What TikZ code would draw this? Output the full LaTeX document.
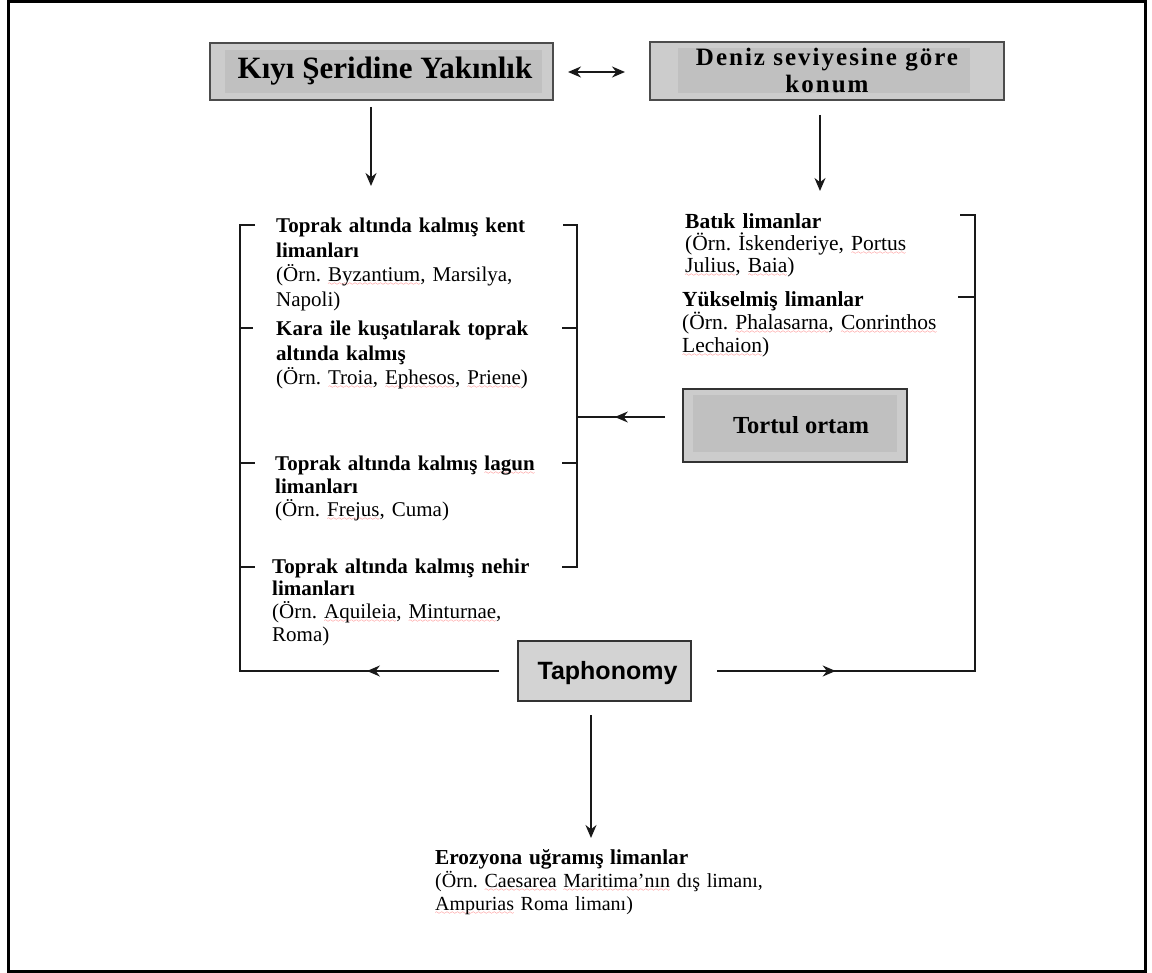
\documentclass[tikz,border=0pt]{standalone}
\usepackage{fontspec}
\setmainfont{Liberation Serif}
\newfontfamily\arialf{Liberation Sans}
\newfontfamily\spacedf[LetterSpace=8]{Liberation Serif}
\usetikzlibrary{arrows.meta,decorations.markings}
\font\sqwfont=lasy6
\newcommand\sqw[1]{\leavevmode\setbox0\hbox{#1}\rlap{\textcolor{red!75}{\lower4pt\hbox to \wd0{\xleaders\hbox{\sqwfont\char58}\hfil}}}\box0\relax}
\definecolor{boxout}{RGB}{204,204,204}
\definecolor{boxin}{RGB}{192,192,192}
\definecolor{taphfill}{RGB}{211,211,211}
\tikzset{
  ln/.style={line width=1.5pt, black!90},
  tipd/.style={-{Stealth[length=13pt,width=11pt]}},
  midarrow/.style={postaction={decorate},decoration={markings,mark=at position #1 with {\arrow{Stealth[length=13pt,width=11pt]}}}},
  graybox/.style={draw=black!70, line width=2pt, fill=boxout, inner sep=0pt},
  txt/.style={anchor=base west, inner sep=0pt, text width=360pt, align=left},
  bodyf/.style={font=\fontsize{21}{#1}\selectfont},
}
\begin{document}
\frenchspacing
\begin{tikzpicture}[x=1pt,y=-1pt]
\useasboundingbox (0,0) rectangle (1152,973);
\draw[line width=3.5pt] (8.5,1.75) rectangle (1145.5,971.25);

% top-left box
\node[graybox, minimum width=343pt, minimum height=57pt] (kiyi) at (381.5,71.5) {};
\fill[boxin] (225,50) rectangle (542,93);
\node[anchor=base, inner sep=0pt, font=\fontsize{31}{32}\selectfont\bfseries] (kiyiT) at (385,78.5) {Kıyı Şeridine Yakınlık};

% top-right box
\node[graybox, minimum width=354pt, minimum height=58pt] (deniz) at (827,71) {};
\fill[boxin] (678,48) rectangle (970,93);
\node[anchor=base, inner sep=0pt, text width=330pt, align=center, font=\fontsize{25}{27}\spacedf\bfseries] (denizT) at (827,66) {Deniz seviyesine göre\\konum};

% double arrow
\coordinate (dl) at (568,72);
\coordinate (dr) at (625,72);
\draw[ln, {Stealth[length=13pt,width=11pt]}-{Stealth[length=13pt,width=11pt]}] (dl) -- (dr);

% down arrows
\coordinate (a1s) at (371,107);
\coordinate (a1e) at (371,186);
\draw[ln, tipd] (a1s) -- (a1e);
\coordinate (a2s) at (820,115);
\coordinate (a2e) at (820,191);
\draw[ln, tipd] (a2s) -- (a2e);

% left bracket
\coordinate (lt) at (255,225);
\coordinate (lc) at (240,225);
\coordinate (lb) at (240,671);
\coordinate (tapL) at (499,671);
\draw[ln] (lt) -- (lc) -- (lb) -- (tapL);
\draw[ln, midarrow=0.51] (tapL) -- (lb);
\draw[ln] (240,328) -- (253,328);
\draw[ln] (240,463) -- (255,463);
\draw[ln] (240,567) -- (255,567);
% inner right side of left bracket
\draw[ln] (563,225) -- (577,225) -- (577,567) -- (562,567);
\draw[ln] (562,328) -- (577,328);
\draw[ln] (562,463) -- (577,463);

% Tortul ortam
\node[graybox, draw=black!80, line width=2.2pt, minimum width=224pt, minimum height=73pt] (tortul) at (795,425.5) {};
\fill[boxin] (693,395) rectangle (897,452);
\node[anchor=base, inner sep=0pt, font=\fontsize{24.5}{26}\selectfont\bfseries] (tortulT) at (801,434) {Tortul ortam};
\coordinate (ts) at (665,417);
\coordinate (te) at (577,417);
\draw[ln, midarrow=0.57] (ts) -- (te);

% right bracket
\coordinate (rt) at (960,215);
\coordinate (rc) at (975,215);
\coordinate (rb) at (975,671);
\coordinate (tapR) at (717,671);
\draw[ln] (rt) -- (rc) -- (rb) -- (tapR);
\draw[ln, midarrow=0.46] (tapR) -- (rb);
\draw[ln] (958,297) -- (975,297);

% Taphonomy
\node[draw=black!80, line width=2pt, fill=taphfill, minimum width=173pt, minimum height=60pt] (taph) at (604.5,671) {};
\node[anchor=base, inner sep=0pt, font=\fontsize{25}{27}\arialf\bfseries] (taphT) at (607.5,679) {Taphonomy};
\coordinate (bs) at (591,715);
\coordinate (be) at (591,838);
\draw[ln, tipd] (bs) -- (be);

% left list
\node[txt, bodyf=24.5] (l1) at (276,233) {\textbf{Toprak altında kalmış kent}\\\textbf{limanları}\\(Örn. \sqw{Byzantium}, Marsilya,\\Napoli)};
\node[txt, bodyf=24.5] (l2) at (276,336) {\textbf{Kara ile kuşatılarak toprak}\\\textbf{altında kalmış}\\(Örn. \sqw{Troia}, \sqw{Ephesos}, \sqw{Priene})};
\node[txt, bodyf=23] (l3) at (275,471) {\textbf{Toprak altında kalmış \sqw{lagun}}\\\textbf{limanları}\\(Örn. \sqw{Frejus}, Cuma)};
\node[txt, bodyf=22.7] (l4) at (272,573) {\textbf{Toprak altında kalmış nehir}\\\textbf{limanları}\\(Örn. \sqw{Aquileia}, \sqw{Minturnae},\\Roma)};

% right list
\node[txt, font=\fontsize{21.5}{22}\selectfont] (r1) at (685,229) {\textbf{Batık limanlar}\\(Örn. İskenderiye, \sqw{Portus}\\\sqw{Julius}, \sqw{Baia})};
\node[txt, font=\fontsize{21.5}{23}\selectfont] (r2) at (682,307) {\textbf{Yükselmiş limanlar}\\(Örn. \sqw{Phalasarna}, \sqw{Conrinthos}\\\sqw{Lechaion})};

% bottom
\node[txt, font=\fontsize{20}{23}\selectfont] (bot) at (435,864) {{\fontsize{21.3}{23}\selectfont\bfseries Erozyona uğramış limanlar}\\(Örn. \sqw{Caesarea} \sqw{Maritima’nın} dış limanı,\\\sqw{Ampurias} Roma limanı)};
\end{tikzpicture}
\end{document}
